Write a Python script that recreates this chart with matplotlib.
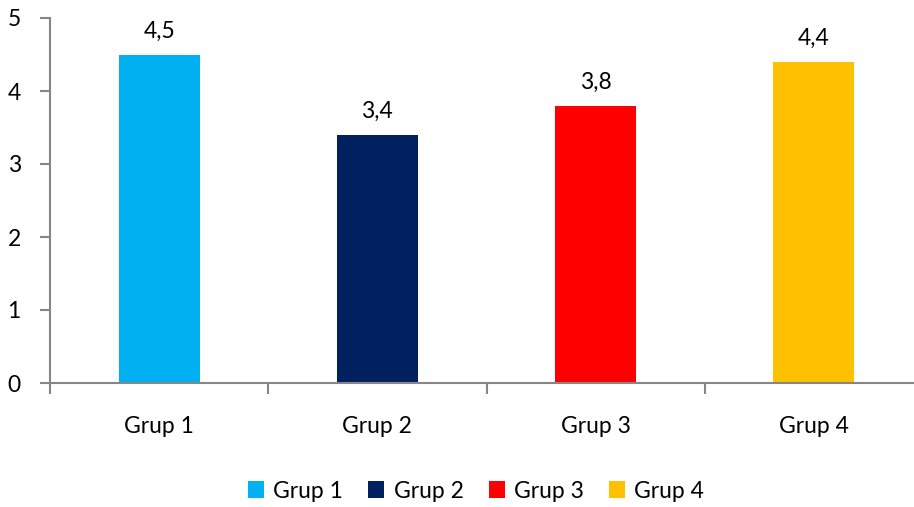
import matplotlib
matplotlib.use("Agg")
import matplotlib.pyplot as plt
from matplotlib.patches import Patch
import numpy as np

groups = ["Grup 1", "Grup 2", "Grup 3", "Grup 4"]
values = [4.5, 3.4, 3.8, 4.4]
value_labels = ["4,5", "3,4", "3,8", "4,4"]
colors = ["#00B0F0", "#002060", "#FF0000", "#FFC000"]
y_ticks = [0, 1, 2, 3, 4, 5]

plt.rcParams['font.family'] = ['Lato', 'DejaVu Sans']
axis_grey = "#868686"
fs = 16.5

W, H = 914, 507
fig = plt.figure(figsize=(W / 100, H / 100), dpi=100)
# axis runs past the right edge of the picture, as in the original
ax = fig.add_axes([50 / W, 1 - 383 / H, (923 - 50) / W, (383 - 18) / H])

x = np.arange(len(groups))
ax.bar(x, values, width=0.37, color=colors, zorder=2)

for xi, v, lab in zip(x, values, value_labels):
    ax.annotate(lab, (xi, v), xytext=(0, 9), textcoords="offset points",
                ha="center", va="bottom", fontsize=fs, color="black")

ax.set_xlim(-0.5, 3.5)
ax.set_ylim(0, 5)
ax.set_yticks(y_ticks)
ax.set_yticklabels([str(t) for t in y_ticks], fontsize=fs)

# ticks sit between categories, labels at category centres
ax.set_xticks(np.arange(-0.5, 4.0, 1.0))
ax.set_xticklabels([])
ax.set_xticks(x, minor=True)
ax.set_xticklabels(groups, minor=True, fontsize=fs)
ax.tick_params(axis="x", which="major", length=8, width=1.5, color=axis_grey, direction="out")
ax.tick_params(axis="x", which="minor", length=0, pad=24)
ax.tick_params(axis="y", length=7, width=1.5, color=axis_grey, pad=14)

for side in ["top", "right"]:
    ax.spines[side].set_visible(False)
for side in ["left", "bottom"]:
    ax.spines[side].set_color(axis_grey)
    ax.spines[side].set_linewidth(1.5)
    ax.spines[side].set_zorder(3)

handles = [Patch(facecolor=c, edgecolor="none") for c in colors]
fig.legend(handles, groups, loc="center", bbox_to_anchor=(476 / W, 1 - 491 / H),
           ncol=4, frameon=False, fontsize=fs, handlelength=0.7, handleheight=0.7,
           handletextpad=0.4, columnspacing=1.1)

fig.savefig("out.png", dpi=100)
